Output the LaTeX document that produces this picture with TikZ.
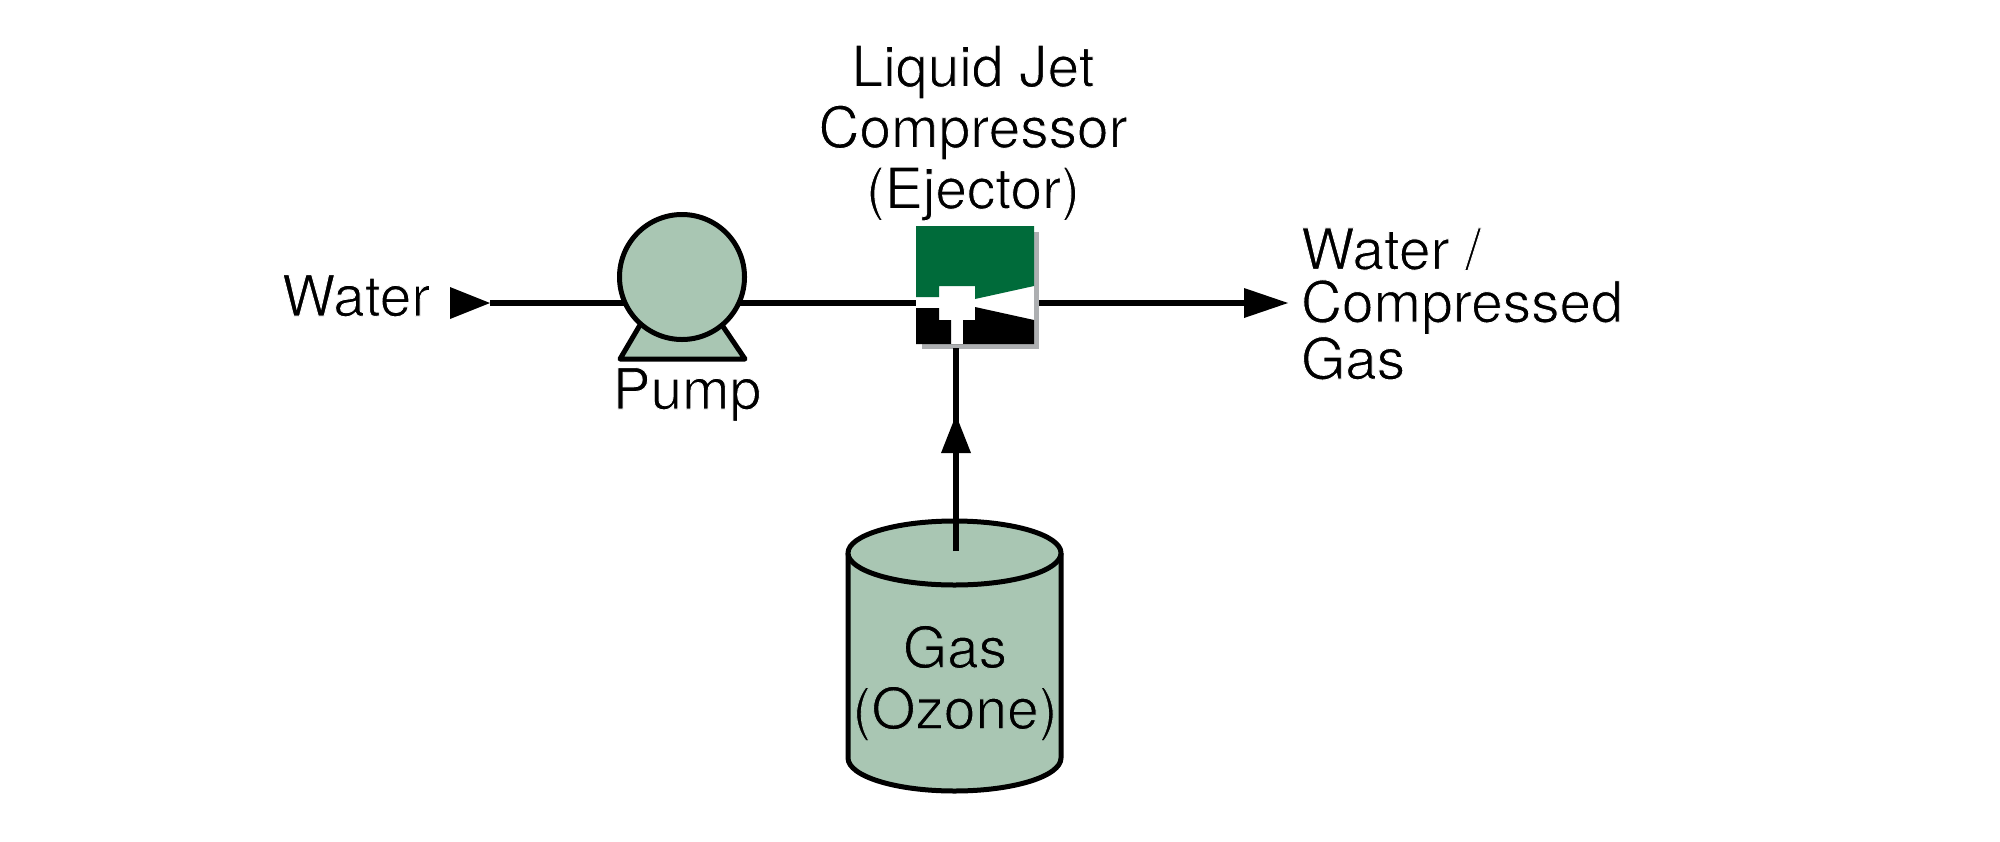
\documentclass[tikz,border=0pt]{standalone}
\usepackage{fontspec}
\setmainfont{TeX Gyre Heros}
\usetikzlibrary{shapes.geometric}
\definecolor{tankfill}{HTML}{A9C6B3}
\definecolor{ejgreen}{HTML}{006B3A}
\definecolor{ejshadow}{HTML}{ADAFB1}
% Lighter letterforms: each glyph gets a fine stroke in the colour behind it
\newcommand{\thinonwhite}{\special{pdf:code 2 Tr 0.45 w 1 1 1 RG}}
\newcommand{\thinontank}{\special{pdf:code 2 Tr 0.45 w 0.663 0.776 0.702 RG}}
\tikzset{
  x=0.5pt,y=-0.5pt,
  pipe/.style={line width=2.6pt,draw=black},
  outline/.style={line width=2.5pt,draw=black,fill=tankfill,line join=round},
  head/.style={fill=black,draw=none},
  label/.style={inner sep=0pt,outer sep=0pt,font=\fontsize{28.4}{30.5}\selectfont,text=black},
  labeltight/.style={label,font=\fontsize{28.4}{26.4}\selectfont},
}
\begin{document}
\begin{tikzpicture}
\useasboundingbox (0,0) rectangle (2000,841);
% Anchor points of the pipe run
\coordinate (inBase) at (450,303);
\coordinate (inTip) at (490,303);
\coordinate (pumpHub) at (682,303);
\coordinate (outBase) at (1244,303);
\coordinate (outTip) at (1288,303);
\coordinate (gasTip) at (956,415);
\coordinate (gasEnd) at (956,551);

% Ejector body with its drop shadow
\fill[ejshadow] (922,232) rectangle (1039,349);
\node[draw=none,fill=white,minimum width=59pt,minimum height=59pt,inner sep=0pt,outer sep=0pt] (ejector) at (975,285) {};
\fill[ejgreen] (916,226) -- (1034,226) -- (1034,286) -- (975,299) -- (975,286) -- (939,286) -- (939,297) -- (916,297) -- cycle;
\fill[black] (916,308) -- (939,308) -- (939,320) -- (951,320) -- (951,344) -- (963,344) -- (963,320) -- (975,320) -- (975,307) -- (1034,320) -- (1034,344) -- (916,344) -- cycle;

% Water line runs behind the pump casing
\draw[pipe] (inTip) -- (pumpHub);
\draw[pipe] (pumpHub) -- (ejector.west |- pumpHub);

% Pump: base, then casing
\draw[outline] (640,325) -- (620,359) -- (745,359) -- (722,325);
\node[outline,circle,minimum size=62.5pt,inner sep=0pt,outer sep=0pt] (pump) at (682,277) {};

% Storage tank
\fill[tankfill] (848,553) -- (848,758) arc[start angle=180,end angle=0,x radius=106.5,y radius=33] -- (1061,553) -- cycle;
\draw[outline,fill=none] (848,553) -- (848,758) arc[start angle=180,end angle=0,x radius=106.5,y radius=33] -- (1061,553);
\node[outline,ellipse,minimum width=106.5pt,minimum height=32pt,inner sep=0pt,outer sep=0pt] (tank) at (954.5,553) {};

% Remaining piping
\draw[pipe] (1039,303) -- (outBase);
\draw[pipe] (gasEnd) -- (956,348);

% Arrowheads
\fill[head] (450,287) -- (inTip) -- (450,319) -- cycle;
\fill[head] (1244,288) -- (outTip) -- (1244,318) -- cycle;
\fill[head] (941,453) -- (gasTip) -- (971,453) -- cycle;

% Labels
\node[label,anchor=base] (lblWater) at (356,316) {\thinonwhite Water};
\node[label,anchor=base] (lblPump) at (687,409) {\thinonwhite Pump};
\node[label,align=center] (lblEjector) at (973,133) {\thinonwhite Liquid Jet\\\thinonwhite Compressor\\\thinonwhite (Ejector)};
\node[labeltight,align=left,anchor=west] (lblOut) at (1301,304) {\thinonwhite Water /\\\thinonwhite Compressed\\\thinonwhite Gas};
\node[label,align=center] (lblGas) at (955,683) {\thinontank Gas\\\thinontank (Ozone)};
\end{tikzpicture}
\end{document}
